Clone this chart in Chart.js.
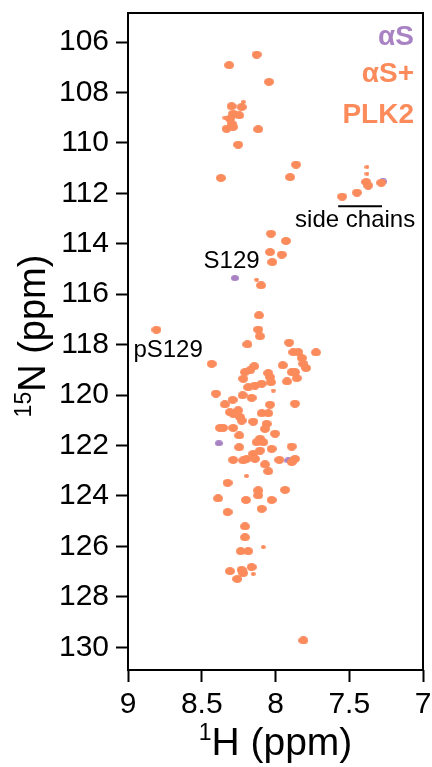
<!DOCTYPE html>
<html>
<head>
<meta charset="utf-8">
<script src="https://cdn.jsdelivr.net/npm/chart.js@4.4.0/dist/chart.umd.min.js"></script>
<style>
  html, body { margin: 0; padding: 0; background: #fff; }
</style>
</head>
<body>
<canvas id="hsqc" width="432" height="767"></canvas>
<script>
// peak positions (1H ppm, 15N ppm)
// peaks seen in both spectra
const sharedH = [8.128, 8.314, 8.044, 8.298, 8.230, 8.246, 8.287, 8.309, 8.298, 8.332,
  8.287, 8.117, 8.253, 7.861, 8.370, 7.901, 7.385, 7.372, 7.283, 7.448,
  7.548, 8.031, 7.929, 8.037, 7.958, 8.022, 8.098, 8.112, 8.117, 8.105,
  8.190, 7.908, 8.433, 7.725, 7.879, 7.845, 7.822, 7.811, 7.793, 7.951,
  8.144, 8.173, 8.207, 8.049, 8.037, 8.031, 7.890, 7.868, 8.219, 7.922,
  7.856, 8.094, 8.139, 8.185, 8.404, 8.223, 8.162, 8.291, 8.037, 7.868,
  8.343, 8.253, 8.287, 8.241, 8.230, 8.309, 8.094, 8.049, 8.151, 8.060,
  8.071, 8.355, 8.287, 8.377, 8.003, 8.246, 8.105, 8.083, 8.128, 8.246,
  7.890, 8.026, 8.105, 8.151, 8.196, 8.139, 8.219, 8.287, 7.974, 7.868,
  7.890, 8.071, 8.049, 8.325, 8.117, 8.117, 7.935, 8.389, 8.200, 8.026,
  8.094, 8.325, 8.207, 8.207, 8.236, 8.185, 8.309, 8.230, 8.219, 8.162,
  8.259, 7.811]
const sharedN = [106.50, 106.92, 107.58, 108.55, 108.58, 108.91, 108.84, 109.04, 109.24, 109.44,
  109.37, 109.46, 110.07, 110.86, 111.39, 111.36, 111.55, 111.69, 111.58, 111.97,
  112.13, 113.60, 113.89, 114.33, 114.43, 114.73, 115.65, 116.84, 117.40, 117.67,
  117.99, 117.92, 118.76, 118.31, 118.30, 118.30, 118.53, 118.76, 118.93, 118.82,
  118.86, 119.02, 119.09, 119.13, 119.29, 119.49, 119.09, 119.09, 119.35, 119.46,
  119.33, 119.55, 119.62, 119.69, 119.94, 120.01, 120.11, 120.19, 120.38, 120.34,
  120.37, 120.61, 120.74, 120.87, 121.01, 120.68, 120.72, 120.72, 121.05, 121.14,
  121.34, 121.30, 121.30, 121.30, 121.53, 121.60, 121.73, 121.87, 121.87, 122.07,
  122.04, 122.13, 122.20, 122.33, 122.53, 122.53, 122.59, 122.57, 122.57, 122.53,
  122.66, 122.75, 123.02, 123.48, 123.78, 123.98, 123.76, 124.10, 124.16, 124.16,
  124.51, 124.64, 125.21, 125.64, 126.19, 126.19, 126.98, 126.93, 127.06, 126.82,
  127.29, 129.73]
// weak peaks
const weakH = [8.343, 8.219, 7.380, 7.380, 8.128, 8.015, 8.196, 8.083, 8.151]
const weakN = [109.00, 108.38, 110.96, 111.22, 115.42, 119.82, 123.21, 126.03, 127.09]
// only in aS (S129 before phosphorylation and a few shifted ones)
const asOnlyH = [8.275, 8.384, 7.913, 7.270]
const asOnlyN = [115.36, 121.91, 122.59, 111.53]
// only in aS+PLK2
const plkOnlyH = [8.807]
const plkOnlyN = [117.41]

const xTicks = [9, 8.5, 8, 7.5, 7]
const yTicks = [106, 108, 110, 112, 114, 116, 118, 120, 122, 124, 126, 128, 130]

const PURPLE = '#a982c4'
const ORANGE = '#fb8b5b'
const FONT = '"Liberation Sans", Arial, Helvetica, sans-serif'

Chart.defaults.font.family = FONT

function toPoints(hs, ns) {
  return hs.map((h, i) => ({ x: h, y: ns[i] }))
}

// little ellipse used as the peak marker
function blob(w, h, color) {
  const c = document.createElement('canvas')
  c.width = w
  c.height = h
  const g = c.getContext('2d')
  g.fillStyle = color
  g.beginPath()
  g.ellipse(w / 2, h / 2, w / 2, h / 2, 0, 0, Math.PI * 2)
  g.fill()
  return c
}

// text with a leading superscript, eg 1H
function supText(ctx, sup, main, size) {
  const supSize = Math.round(size * 0.6)
  ctx.font = `${supSize}px ${FONT}`
  const ws = ctx.measureText(sup).width
  ctx.font = `${size}px ${FONT}`
  const wm = ctx.measureText(main).width
  const x0 = -(ws + wm) / 2
  ctx.textAlign = 'left'
  ctx.textBaseline = 'alphabetic'
  ctx.font = `${supSize}px ${FONT}`
  ctx.fillText(sup, x0, -size * 0.38)
  ctx.font = `${size}px ${FONT}`
  ctx.fillText(main, x0 + ws, 0)
}

const extras = {
  id: 'extras',
  afterDatasetsDraw(chart) {
    const { ctx, chartArea, scales } = chart
    const x = scales.x
    const y = scales.y
    ctx.save()

    // frame
    ctx.strokeStyle = '#000'
    ctx.lineWidth = 2
    ctx.strokeRect(chartArea.left, chartArea.top, chartArea.right - chartArea.left, chartArea.bottom - chartArea.top)

    // annotations
    ctx.fillStyle = '#000'
    ctx.font = `24px ${FONT}`
    ctx.textAlign = 'center'
    ctx.textBaseline = 'middle'
    ctx.fillText('S129', x.getPixelForValue(8.298), y.getPixelForValue(114.69))
    ctx.fillText('pS129', x.getPixelForValue(8.728), y.getPixelForValue(118.23))
    ctx.fillText('side chains', x.getPixelForValue(7.46), y.getPixelForValue(113.07))
    ctx.beginPath()
    ctx.moveTo(x.getPixelForValue(7.575), y.getPixelForValue(112.51))
    ctx.lineTo(x.getPixelForValue(7.278), y.getPixelForValue(112.51))
    ctx.stroke()

    // legend
    ctx.font = `bold 28px ${FONT}`
    ctx.textAlign = 'right'
    ctx.textBaseline = 'alphabetic'
    const lx = chartArea.right - 9
    ctx.fillStyle = PURPLE
    ctx.fillText('αS', lx, chartArea.top + 32)
    ctx.fillStyle = ORANGE
    ctx.fillText('αS+', lx, chartArea.top + 69)
    ctx.fillText('PLK2', lx, chartArea.top + 110)

    // axis titles
    ctx.fillStyle = '#000'
    ctx.save()
    ctx.translate((chartArea.left + chartArea.right) / 2, 755)
    supText(ctx, '1', 'H (ppm)', 39)
    ctx.restore()
    ctx.save()
    ctx.translate(45, 336)
    ctx.rotate(-Math.PI / 2)
    supText(ctx, '15', 'N (ppm)', 38)
    ctx.restore()

    ctx.restore()
  }
}

const ctx = document.getElementById('hsqc').getContext('2d')
new Chart(ctx, {
  type: 'scatter',
  data: {
    datasets: [
      {
        label: 'αS+PLK2',
        data: toPoints(sharedH.concat(plkOnlyH), sharedN.concat(plkOnlyN)),
        pointStyle: blob(10, 8, ORANGE),
        order: 0
      },
      {
        label: 'αS+PLK2 weak',
        data: toPoints(weakH, weakN),
        pointStyle: blob(5, 4, ORANGE),
        order: 0
      },
      {
        label: 'αS',
        data: toPoints(sharedH.concat(asOnlyH), sharedN.concat(asOnlyN)),
        pointStyle: blob(8, 6, PURPLE),
        order: 1
      }
    ]
  },
  plugins: [extras],
  options: {
    responsive: false,
    animation: false,
    devicePixelRatio: 1,
    layout: { padding: { top: 13, right: 9, left: 0, bottom: 0 } },
    plugins: {
      legend: { display: false },
      tooltip: { enabled: false }
    },
    scales: {
      x: {
        type: 'linear',
        reverse: true,
        min: 7,
        max: 9,
        afterBuildTicks: (s) => { s.ticks = xTicks.map(v => ({ value: v })) },
        afterFit: (s) => {
          s.height = 97
          s.paddingLeft = 0
          s.paddingRight = 0
        },
        border: { display: false },
        grid: { drawOnChartArea: false, drawTicks: true, tickLength: 12, tickWidth: 2, tickColor: '#000' },
        ticks: {
          color: '#000',
          font: { size: 30 },
          padding: 5,
          maxRotation: 0,
          autoSkip: false,
          callback: (v) => String(v)
        }
      },
      y: {
        type: 'linear',
        reverse: true,
        min: 104.85,
        max: 130.9,
        afterBuildTicks: (s) => { s.ticks = yTicks.map(v => ({ value: v })) },
        afterFit: (s) => {
          s.width = 128
          s.paddingTop = 0
          s.paddingBottom = 0
        },
        border: { display: false },
        grid: { drawOnChartArea: false, drawTicks: true, tickLength: 12, tickWidth: 2, tickColor: '#000' },
        ticks: {
          color: '#000',
          font: { size: 30 },
          padding: 7,
          autoSkip: false,
          callback: (v) => String(v)
        }
      }
    }
  }
})
</script>
</body>
</html>
